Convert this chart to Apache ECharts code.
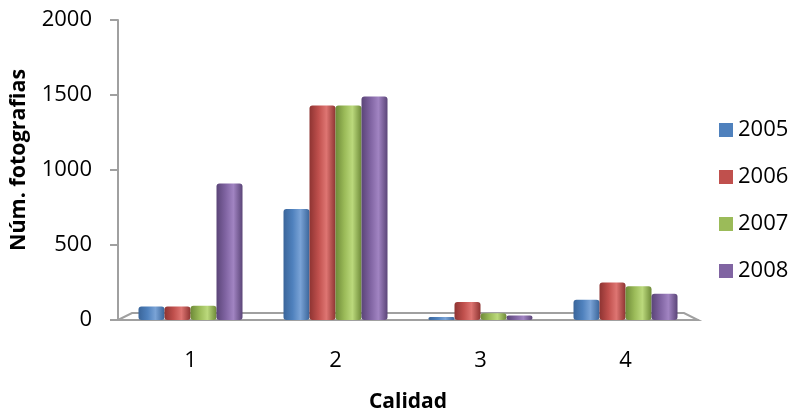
<!DOCTYPE html>
<html><head><meta charset="utf-8">
<script src="https://cdn.jsdelivr.net/npm/echarts@6/dist/echarts.min.js"></script>
<style>html,body{margin:0;padding:0;background:#fff}#c{width:793px;height:413px}</style>
</head><body><div id="c"></div>
<script>
const categories = ['1','2','3','4'];
const s2005 = [90, 740, 20, 135];
const s2006 = [90, 1430, 120, 250];
const s2007 = [95, 1430, 45, 225];
const s2008 = [910, 1490, 30, 175];
const years = ['2005','2006','2007','2008'];
const yTicks = [0, 500, 1000, 1500, 2000];

const colors = [
  ['#3A659A','#4F81BD','#7AA3D6','#3A659A'],
  ['#8E3432','#C0504D','#DE7572','#8E3432'],
  ['#6E8A38','#9BBB59','#BBD97C','#6E8A38'],
  ['#5B4578','#8064A2','#A184C2','#5B4578']
];
const legendColors = ['#4F81BD','#C0504D','#9BBB59','#8064A2'];
function grad(c){
  return {type:'linear',x:0,y:0,x2:1,y2:0,colorStops:[
    {offset:0,color:c[0]},{offset:0.35,color:c[1]},{offset:0.65,color:c[2]},{offset:1,color:c[3]}]};
}
const font = 'Open Sans, Noto Sans, sans-serif';
const data = [s2005, s2006, s2007, s2008];
const chart = echarts.init(document.getElementById('c'), null, {renderer:'canvas'});
chart.setOption({
  animation:false,
  backgroundColor:'#fff',
  color: legendColors,
  grid:{left:118, right:95, top:20, bottom:93, outerBoundsMode:'none', containLabel:false},
  legend:{
    orient:'vertical', left:714, top:114, itemGap:25, itemWidth:14, itemHeight:14,
    icon:'rect',
    textStyle:{fontFamily:font, fontSize:22, lineHeight:22, color:'#000', padding:[0,0,0,0]},
    data: years.map((y,i)=>({name:y, itemStyle:{color:legendColors[i]}}))
  },
  xAxis:{
    type:'category', data:categories,
    name:'Calidad', nameLocation:'middle', nameGap:72,
    nameTextStyle:{fontFamily:font, fontSize:21, fontWeight:'bold', color:'#000'},
    axisLine:{lineStyle:{color:'#a0a0a0', width:2}},
    axisTick:{show:false},
    axisLabel:{fontFamily:font, fontSize:22, color:'#000', margin:30}
  },
  yAxis:{
    type:'value', min:0, max:2000, interval:500,
    name:'Núm. fotografias', nameLocation:'middle', nameGap:88,
    nameTextStyle:{fontFamily:font, fontSize:21.5, fontWeight:'bold', color:'#000', padding:[0,0,0,20]},
    axisLine:{show:true, lineStyle:{color:'#a0a0a0', width:2}},
    axisTick:{show:true, inside:false, length:8, lineStyle:{color:'#a0a0a0', width:2}},
    axisLabel:{fontFamily:font, fontSize:22, color:'#000', margin:26,
      formatter: v => yTicks.indexOf(v) >= 0 ? String(v) : ''},
    splitLine:{show:false}
  },
  graphic:[{
    type:'polygon', silent:true, z:0,
    shape:{points:[[118,320],[132,313],[684,313],[698,320]]},
    style:{fill:'none', stroke:'#a0a0a0', lineWidth:2}
  }],
  series: years.map((y,i)=>({
    name:y, type:'bar', data:data[i], barWidth:26, barGap:'0%', barCategoryGap:'30%',
    itemStyle:{color:grad(colors[i]), borderRadius:[3,3,3,3]},
    z:2
  }))
});
</script></body></html>
